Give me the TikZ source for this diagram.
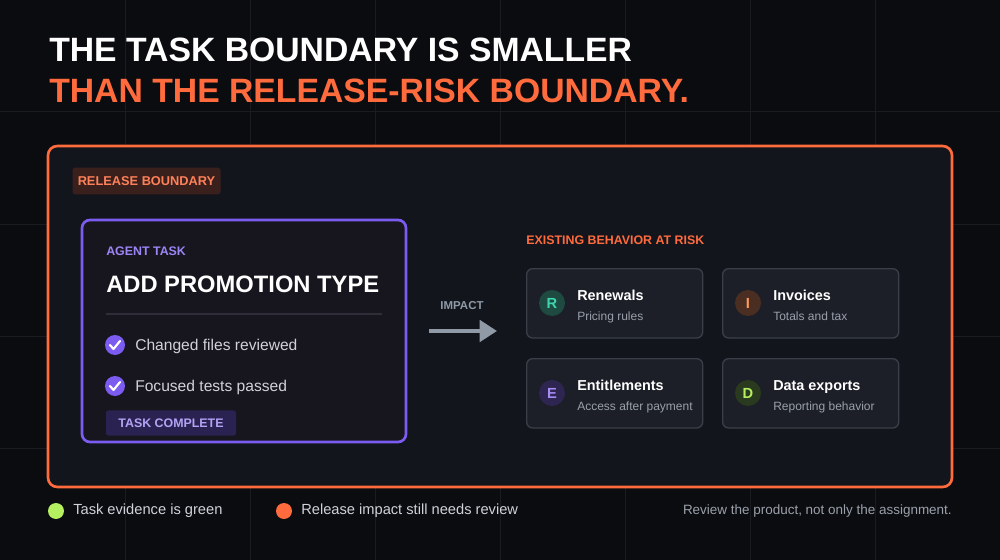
\documentclass[tikz,border=0pt]{standalone}
\usepackage{fontspec}
\setmainfont{Liberation Sans}
\usetikzlibrary{arrows.meta}
\definecolor{bg}{HTML}{0B0C10}
\definecolor{grid}{HTML}{1A1C22}
\definecolor{orng}{HTML}{FF6B3D}
\definecolor{panel}{HTML}{12151C}
\definecolor{tagbg}{HTML}{3A201C}
\definecolor{purp}{HTML}{7C5CF0}
\definecolor{purtxt}{HTML}{9D85F5}
\definecolor{agentbg}{HTML}{17161F}
\definecolor{sep}{HTML}{2E2D38}
\definecolor{body}{HTML}{D0D2DA}
\definecolor{donebg}{HTML}{2A2250}
\definecolor{donetxt}{HTML}{B3A3F5}
\definecolor{arrowc}{HTML}{8F9AA6}
\definecolor{cardbg}{HTML}{1C1F27}
\definecolor{cardln}{HTML}{3A3E48}
\definecolor{subt}{HTML}{9AA0AA}
\definecolor{lime}{HTML}{B5F060}
\tikzset{
 card/.style={draw=cardln,line width=1pt,fill=cardbg,rounded corners=4.5pt,minimum width=132pt,minimum height=52pt,anchor=north west,inner sep=0},
 icon/.style={circle,minimum size=19.5pt,inner sep=0,font=\bfseries\fontsize{11}{11}\selectfont},
 ctitle/.style={anchor=base west,text=white,font=\bfseries\fontsize{10.8}{10.8}\selectfont,inner sep=0},
 csub/.style={anchor=base west,text=subt,font=\fontsize{9}{9}\selectfont,inner sep=0},
 chk/.style={circle,fill=purp,minimum size=15pt,inner sep=0},
 item/.style={anchor=west,text=body,font=\fontsize{11.7}{11.7}\selectfont,inner sep=0},
 legend/.style={anchor=west,inner sep=0,text=body,font=\fontsize{11}{11}\selectfont},
}
\begin{document}
\begin{tikzpicture}[x=0.75pt,y=-0.75pt]
\fill[bg] (0,0) rectangle (1000,560);
\useasboundingbox (0,0) rectangle (1000,560);
\foreach \x in {125,250,...,875} \draw[grid,line width=0.75pt] (\x,0) -- (\x,560);
\foreach \y in {112,224,336,448} \draw[grid,line width=0.75pt] (0,\y) -- (1000,\y);
\node[anchor=base west,inner sep=0,text=white,font=\bfseries\fontsize{25.3}{25.3}\selectfont] (t1) at (49,62) {THE TASK BOUNDARY IS SMALLER};
\node[anchor=base west,inner sep=0,text=orng,font=\bfseries\fontsize{25.3}{25.3}\selectfont] (t2) at (49,103) {THAN THE RELEASE-RISK BOUNDARY.};
\draw[orng,line width=2pt,fill=panel,rounded corners=7pt] (48,146) rectangle (952,487);
\node[fill=tagbg,rounded corners=2pt,minimum width=111pt,minimum height=20pt,inner sep=0,text=orng!85!white,font=\bfseries\fontsize{9.6}{9.6}\selectfont] (rb) at (146.5,181) {RELEASE BOUNDARY};
\draw[purp,line width=2pt,fill=agentbg,rounded corners=6pt] (82,220) rectangle (406,442);
\node[anchor=base west,inner sep=0,text=purtxt,font=\bfseries\fontsize{9.3}{9.3}\selectfont] (at) at (106,255) {AGENT TASK};
\node[anchor=base west,inner sep=0,text=white,font=\bfseries\fontsize{17.8}{17.8}\selectfont] (apt) at (106,292) {ADD PROMOTION TYPE};
\draw[sep,line width=1pt] (106,314) -- (382,314);
\node[chk] (c1) at (115,345) {};
\draw[white,line width=1.6pt,line cap=round,line join=round] (110,345) -- (113.5,349) -- (120,341);
\node[item] (i1) at (135,346) {Changed files reviewed};
\node[chk] (c2) at (115,386) {};
\draw[white,line width=1.6pt,line cap=round,line join=round] (110,386) -- (113.5,390) -- (120,382);
\node[item] (i2) at (135,387) {Focused tests passed};
\node[fill=donebg,rounded corners=2pt,minimum width=97.5pt,minimum height=19pt,inner sep=0,text=donetxt,font=\bfseries\fontsize{9.3}{9.3}\selectfont] (tc) at (171,423) {TASK COMPLETE};
\node[inner sep=0,text=arrowc,font=\bfseries\fontsize{8.6}{8.6}\selectfont] (imp) at (462,306) {IMPACT};
\coordinate (a1) at (429,331); \coordinate (a2) at (497,331);
\draw[arrowc,line width=3pt,-{Triangle[length=13pt,width=16pt]}] (a1) -- (a2);
\node[anchor=base west,inner sep=0,text=orng,font=\bfseries\fontsize{9.3}{9.3}\selectfont] (eb) at (526,244) {EXISTING BEHAVIOR AT RISK};
\foreach \n/\x/\y/\L/\cbg/\ctx/\T/\S in {
 r/526/268/R/1E4A42/3DD6B0/Renewals/Pricing rules,
 i/722/268/I/4A2E22/FF9A5A/Invoices/Totals and tax,
 e/526/358/E/2E2550/A68CF5/Entitlements/Access after payment,
 d/722/358/D/2A3A1E/B5F060/Data exports/Reporting behavior}{
 \node[card] (card\n) at (\x,\y) {};
 \definecolor{tmpbg}{HTML}{\cbg}\definecolor{tmptx}{HTML}{\ctx}
 \node[icon,fill=tmpbg,text=tmptx] (ic\n) at (\x+26,\y+35) {\L};
 \node[ctitle] (ti\n) at (\x+51,\y+32) {\T};
 \node[csub] (su\n) at (\x+51,\y+52) {\S};
}
\node[circle,fill=lime,minimum size=12pt,inner sep=0] (g) at (56,511) {};
\node[legend] (gl) at (73,511) {Task evidence is green};
\node[circle,fill=orng,minimum size=12pt,inner sep=0] (o) at (284,511) {};
\node[legend] (ol) at (301,511) {Release impact still needs review};
\node[anchor=east,inner sep=0,text=subt,font=\fontsize{10.1}{10.1}\selectfont] (rv) at (952,511) {Review the product, not only the assignment.};
\end{tikzpicture}
\end{document}
